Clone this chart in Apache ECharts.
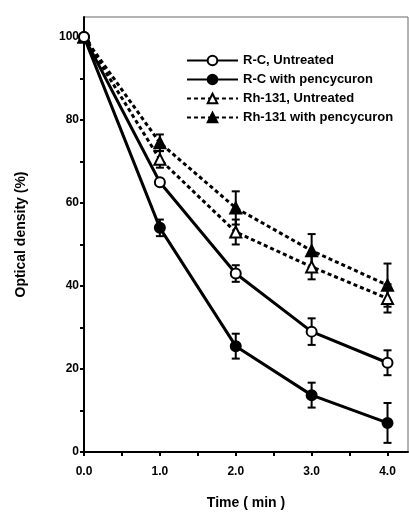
<!DOCTYPE html>
<html>
<head>
<meta charset="utf-8">
<script src="https://cdn.jsdelivr.net/npm/echarts@6/dist/echarts.min.js"></script>
<style>
  html, body { margin: 0; padding: 0; background: #fff; }
  #chart { width: 409px; height: 515px; }
</style>
</head>
<body>
<div id="chart"></div>
<script>
// time points (min)
const times = [0, 1, 2, 3, 4];

// optical density (%) per strain / treatment
const rcUntreated = [100, 65, 43, 29, 21.5];
const rcPency = [100, 54, 25.5, 13.7, 7];
const rhUntreated = [100, 70.5, 53, 44.6, 37];
const rhPency = [100, 74.5, 58.8, 48.5, 40.2];

// error (+/-), 0 where no bar is drawn
const rcUntreatedErr = [0, 0, 2, 3.2, 3];
const rcPencyErr = [0, 2, 3, 3, 4.8];
const rhUntreatedErr = [0, 2, 3, 3, 3.4];
const rhPencyErr = [0, 2, 4, 4, 5.2];

const xTicks = [0, 1, 2, 3, 4];
const yTicks = [0, 20, 40, 60, 80, 100];

const font = '"Liberation Sans", Arial, Helvetica, sans-serif';

function pts(vals) {
  return vals.map(function (v, i) { return [times[i], v]; });
}

function errData(vals, errs) {
  var out = [];
  vals.forEach(function (v, i) {
    if (errs[i] > 0) out.push([times[i], v - errs[i], v + errs[i]]);
  });
  return out;
}

function errSeries(vals, errs) {
  return {
    type: 'custom',
    data: errData(vals, errs),
    encode: { x: 0, y: [1, 2] },
    z: 1,
    silent: true,
    renderItem: function (params, api) {
      var lo = api.coord([api.value(0), api.value(1)]);
      var hi = api.coord([api.value(0), api.value(2)]);
      var w = 4;
      var st = { stroke: '#000', lineWidth: 2 };
      return {
        type: 'group',
        children: [
          { type: 'line', shape: { x1: lo[0], y1: lo[1], x2: hi[0], y2: hi[1] }, style: st },
          { type: 'line', shape: { x1: lo[0] - w, y1: lo[1], x2: lo[0] + w, y2: lo[1] }, style: st },
          { type: 'line', shape: { x1: hi[0] - w, y1: hi[1], x2: hi[0] + w, y2: hi[1] }, style: st }
        ]
      };
    }
  };
}

function lineSeries(name, vals, symbol, filled, dashed) {
  return {
    name: name,
    type: 'line',
    data: pts(vals),
    z: 3,
    symbol: symbol,
    symbolSize: symbol === 'triangle' ? 11 : 10,
    showAllSymbol: true,
    lineStyle: { color: '#000', width: 3, type: dashed ? [4, 3] : 'solid' },
    itemStyle: { color: filled ? '#000' : '#fff', borderColor: '#000', borderWidth: 2 }
  };
}

const chart = echarts.init(document.getElementById('chart'));
chart.setOption({
  animation: false,
  backgroundColor: '#fff',
  grid: {
    left: 84, right: 1, top: 17, bottom: 63,
    show: true, borderColor: '#666', borderWidth: 1
  },
  legend: {
    orient: 'vertical',
    left: 181, top: 49,
    itemWidth: 51, itemHeight: 12, itemGap: 6,
    textStyle: { fontFamily: font, fontWeight: 'bold', fontSize: 13, color: '#000' },
    data: ['R-C, Untreated', 'R-C with pencycuron', 'Rh-131, Untreated', 'Rh-131 with pencycuron']
  },
  xAxis: {
    type: 'value',
    min: 0, max: 4.27,
    name: 'Time ( min )',
    nameLocation: 'middle',
    nameGap: 44,
    nameTextStyle: { fontFamily: font, fontWeight: 'bold', fontSize: 14, color: '#000' },
    splitLine: { show: false },
    axisLine: { onZero: false, lineStyle: { color: '#000', width: 2 } },
    axisTick: { customValues: [0, 0.5, 1, 1.5, 2, 2.5, 3, 3.5, 4], length: 4, lineStyle: { color: '#000', width: 2 } },
    axisLabel: {
      customValues: xTicks,
      margin: 14,
      formatter: function (v) { return v.toFixed(1); },
      fontFamily: font, fontWeight: 'bold', fontSize: 12, color: '#000'
    }
  },
  yAxis: {
    type: 'value',
    min: 0, max: 104.8,
    name: 'Optical density (%)',
    nameLocation: 'middle',
    nameGap: 56,
    nameTextStyle: { fontFamily: font, fontWeight: 'bold', fontSize: 14, color: '#000' },
    splitLine: { show: false },
    axisLine: { onZero: false, lineStyle: { color: '#000', width: 2 } },
    axisTick: { customValues: [0, 10, 20, 30, 40, 50, 60, 70, 80, 90, 100], length: 4, lineStyle: { color: '#000', width: 2 } },
    axisLabel: {
      customValues: yTicks,
      margin: 5,
      fontFamily: font, fontWeight: 'bold', fontSize: 12, color: '#000'
    }
  },
  series: [
    errSeries(rcUntreated, rcUntreatedErr),
    errSeries(rcPency, rcPencyErr),
    errSeries(rhUntreated, rhUntreatedErr),
    errSeries(rhPency, rhPencyErr),
    // drawn back to front so the open circle sits on top at t = 0
    lineSeries('Rh-131 with pencycuron', rhPency, 'triangle', true, true),
    lineSeries('Rh-131, Untreated', rhUntreated, 'triangle', false, true),
    lineSeries('R-C with pencycuron', rcPency, 'circle', true, false),
    lineSeries('R-C, Untreated', rcUntreated, 'circle', false, false)
  ]
});
</script>
</body>
</html>
